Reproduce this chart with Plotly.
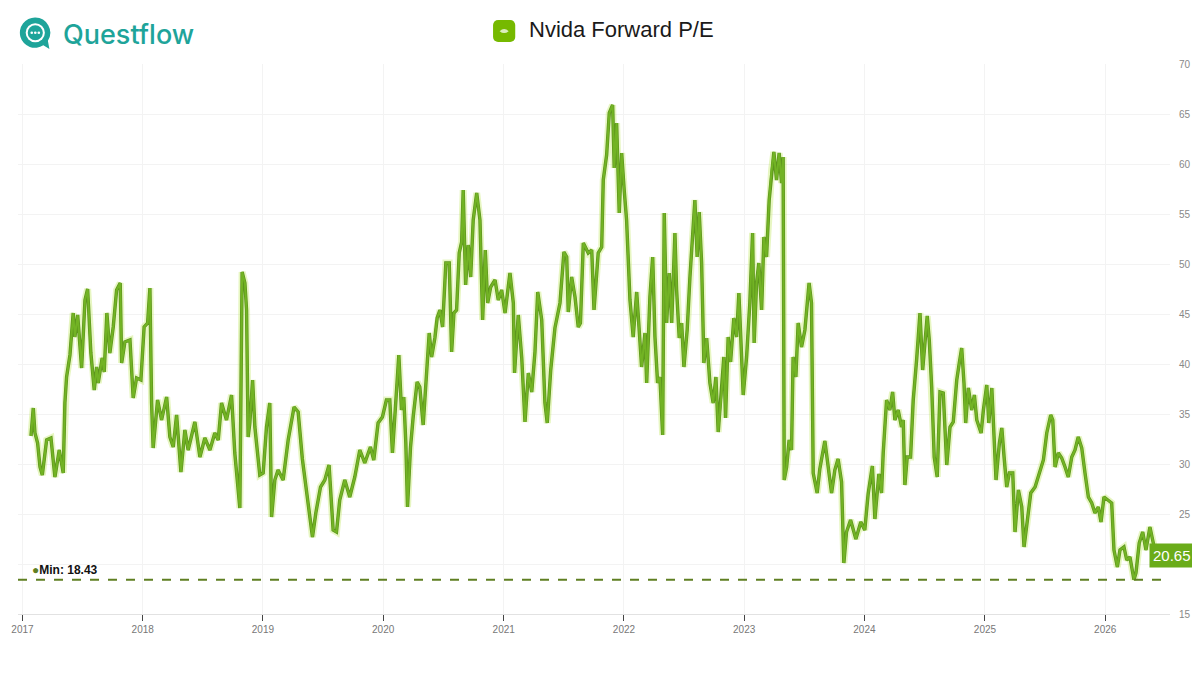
import base64
import pandas as pd
import plotly.graph_objects as go

# weekly-ish forward P/E, x given as decimal years
years = [
    2017.071, 2017.090, 2017.104, 2017.126, 2017.146, 2017.165, 2017.201, 2017.237, 2017.270, 2017.306,
    2017.339, 2017.353, 2017.367, 2017.395, 2017.422, 2017.436, 2017.459, 2017.492, 2017.520, 2017.542,
    2017.569, 2017.597, 2017.617, 2017.630, 2017.663, 2017.680, 2017.702, 2017.727, 2017.755, 2017.783,
    2017.813, 2017.825, 2017.852, 2017.894, 2017.921, 2017.949, 2017.985, 2018.012, 2018.041, 2018.060,
    2018.074, 2018.087, 2018.124, 2018.157, 2018.199, 2018.226, 2018.254, 2018.282, 2018.318, 2018.351,
    2018.378, 2018.434, 2018.476, 2018.517, 2018.559, 2018.600, 2018.628, 2018.656, 2018.697, 2018.739,
    2018.766, 2018.808, 2018.827, 2018.850, 2018.864, 2018.877, 2018.891, 2018.914, 2018.933, 2018.974,
    2019.002, 2019.030, 2019.057, 2019.072, 2019.099, 2019.126, 2019.168, 2019.210, 2019.259, 2019.293,
    2019.328, 2019.376, 2019.412, 2019.440, 2019.479, 2019.515, 2019.550, 2019.584, 2019.612, 2019.639,
    2019.681, 2019.722, 2019.764, 2019.806, 2019.847, 2019.894, 2019.922, 2019.958, 2019.994, 2020.027,
    2020.055, 2020.077, 2020.111, 2020.130, 2020.152, 2020.171, 2020.188, 2020.202, 2020.227, 2020.249,
    2020.282, 2020.304, 2020.332, 2020.354, 2020.382, 2020.402, 2020.429, 2020.448, 2020.471, 2020.493,
    2020.520, 2020.548, 2020.568, 2020.587, 2020.609, 2020.631, 2020.651, 2020.664, 2020.684, 2020.706,
    2020.726, 2020.747, 2020.776, 2020.803, 2020.825, 2020.847, 2020.867, 2020.892, 2020.928, 2020.955,
    2020.983, 2021.011, 2021.052, 2021.080, 2021.090, 2021.121, 2021.150, 2021.177, 2021.205, 2021.233,
    2021.260, 2021.283, 2021.316, 2021.343, 2021.362, 2021.391, 2021.426, 2021.468, 2021.501, 2021.524,
    2021.537, 2021.565, 2021.593, 2021.620, 2021.638, 2021.662, 2021.703, 2021.732, 2021.751, 2021.786,
    2021.815, 2021.828, 2021.856, 2021.878, 2021.906, 2021.919, 2021.939, 2021.961, 2021.981, 2022.002,
    2022.022, 2022.050, 2022.077, 2022.106, 2022.127, 2022.147, 2022.175, 2022.189, 2022.216, 2022.239,
    2022.258, 2022.280, 2022.299, 2022.322, 2022.335, 2022.355, 2022.377, 2022.397, 2022.424, 2022.438,
    2022.460, 2022.480, 2022.499, 2022.526, 2022.549, 2022.571, 2022.590, 2022.609, 2022.626, 2022.646,
    2022.665, 2022.688, 2022.715, 2022.742, 2022.765, 2022.784, 2022.812, 2022.831, 2022.845, 2022.867,
    2022.887, 2022.914, 2022.937, 2022.956, 2022.992, 2023.020, 2023.047, 2023.070, 2023.083, 2023.103,
    2023.122, 2023.145, 2023.164, 2023.186, 2023.208, 2023.228, 2023.247, 2023.269, 2023.291, 2023.311,
    2023.324, 2023.333, 2023.353, 2023.374, 2023.394, 2023.407, 2023.430, 2023.449, 2023.477, 2023.505,
    2023.540, 2023.560, 2023.574, 2023.607, 2023.629, 2023.671, 2023.698, 2023.727, 2023.754, 2023.781,
    2023.810, 2023.829, 2023.851, 2023.885, 2023.929, 2023.970, 2024.003, 2024.031, 2024.066, 2024.087,
    2024.120, 2024.142, 2024.156, 2024.184, 2024.211, 2024.234, 2024.253, 2024.280, 2024.308, 2024.322,
    2024.336, 2024.355, 2024.383, 2024.405, 2024.433, 2024.461, 2024.483, 2024.502, 2024.521, 2024.538,
    2024.558, 2024.579, 2024.604, 2024.627, 2024.654, 2024.683, 2024.710, 2024.737, 2024.766, 2024.787,
    2024.807, 2024.826, 2024.840, 2024.862, 2024.890, 2024.912, 2024.932, 2024.968, 2024.987, 2025.015,
    2025.032, 2025.057, 2025.070, 2025.092, 2025.120, 2025.140, 2025.159, 2025.181, 2025.203, 2025.231,
    2025.250, 2025.278, 2025.306, 2025.325, 2025.353, 2025.381, 2025.417, 2025.452, 2025.486, 2025.514,
    2025.547, 2025.564, 2025.583, 2025.610, 2025.638, 2025.666, 2025.693, 2025.722, 2025.749, 2025.776,
    2025.805, 2025.832, 2025.860, 2025.888, 2025.915, 2025.943, 2025.965, 2025.990, 2026.018, 2026.054,
    2026.073, 2026.101, 2026.123, 2026.156, 2026.179, 2026.206, 2026.239, 2026.256, 2026.283, 2026.312,
    2026.339, 2026.372, 2026.400, 2026.422,
]
pe = [
    32.8, 35.6, 33.1, 32.1, 29.7, 28.9, 32.4, 32.6, 28.7, 31.4,
    29.1, 36.1, 38.7, 40.9, 45.1, 42.7, 44.9, 39.6, 46.4, 47.5,
    41.1, 37.4, 39.7, 38.1, 40.6, 39.2, 45.1, 41.1, 43.7, 47.4,
    48.1, 40.1, 42.2, 42.4, 36.6, 38.6, 38.4, 43.7, 44.1, 47.6,
    36.1, 31.6, 36.4, 34.4, 36.7, 32.7, 31.7, 34.9, 29.2, 33.4,
    31.4, 34.2, 30.7, 32.6, 31.4, 33.1, 32.4, 36.1, 34.4, 36.9,
    31.1, 25.6, 49.2, 48.1, 45.4, 32.7, 34.1, 38.4, 33.7, 28.9,
    29.1, 33.7, 36.1, 24.7, 28.4, 29.4, 28.4, 32.4, 35.7, 35.2,
    30.5, 26.1, 22.7, 25.1, 27.7, 28.4, 29.9, 23.4, 23.2, 26.4,
    28.4, 26.7, 28.7, 31.4, 30.1, 31.7, 30.4, 34.1, 34.7, 36.4,
    36.4, 31.1, 37.4, 40.9, 35.4, 36.7, 32.1, 25.7, 31.7, 34.7,
    38.2, 37.7, 33.9, 38.1, 43.1, 40.7, 42.6, 44.6, 45.4, 43.7,
    50.1, 50.1, 41.2, 45.1, 45.4, 51.1, 52.2, 57.4, 47.9, 51.9,
    48.7, 54.4, 57.1, 54.4, 44.4, 51.4, 46.1, 47.7, 48.4, 46.4,
    47.4, 45.1, 49.1, 46.1, 39.1, 44.9, 40.6, 34.2, 39.1, 37.2,
    41.2, 47.2, 44.4, 36.1, 34.1, 39.4, 43.6, 46.1, 51.2, 50.7,
    45.2, 48.7, 46.7, 43.7, 44.1, 52.1, 51.1, 51.4, 45.4, 51.1,
    51.7, 58.4, 60.9, 65.1, 65.9, 59.6, 64.1, 55.1, 61.1, 57.4,
    54.4, 46.4, 42.7, 47.2, 42.7, 39.7, 43.1, 38.1, 46.7, 50.7,
    42.7, 38.1, 38.7, 32.9, 55.1, 44.1, 49.1, 44.1, 53.1, 47.4,
    42.6, 44.1, 39.7, 43.4, 48.7, 53.1, 56.4, 50.7, 55.2, 50.1,
    40.1, 42.6, 38.1, 36.1, 38.7, 33.2, 37.1, 40.7, 34.6, 42.7,
    40.2, 44.6, 42.7, 47.1, 36.9, 40.7, 46.1, 53.1, 42.1, 48.1,
    50.1, 45.4, 52.7, 50.7, 56.4, 59.4, 61.2, 58.4, 61.1, 58.1,
    60.7, 28.4, 29.7, 32.4, 31.4, 40.7, 38.7, 44.1, 41.7, 43.4,
    48.1, 46.1, 29.1, 27.1, 29.5, 32.3, 29.6, 27.1, 29.4, 30.5,
    28.2, 20.1, 23.2, 24.4, 22.5, 24.2, 23.4, 27.0, 29.8, 24.5,
    29.0, 27.1, 31.1, 36.4, 35.4, 37.2, 34.4, 35.4, 33.7, 34.4,
    27.9, 30.7, 30.7, 36.4, 40.4, 45.1, 39.4, 42.1, 44.8, 42.4,
    37.7, 30.7, 28.7, 37.2, 37.1, 29.9, 33.7, 34.2, 38.4, 40.1,
    41.6, 38.1, 34.1, 37.6, 35.4, 36.9, 34.4, 33.1, 35.4, 37.9,
    34.1, 37.6, 33.7, 28.4, 32.1, 33.6, 30.7, 27.7, 29.1, 29.1,
    23.2, 27.4, 25.7, 21.7, 24.4, 27.1, 27.7, 29.1, 30.4, 33.1,
    34.9, 34.4, 29.7, 31.1, 30.6, 29.7, 28.7, 30.7, 31.4, 32.7,
    31.6, 29.1, 26.7, 26.1, 25.1, 25.7, 24.2, 26.7, 26.4, 26.1,
    21.4, 19.7, 21.4, 21.7, 20.4, 20.7, 18.43, 19.1, 22.1, 23.2,
    21.4, 23.7, 22.1, 20.65,
]
x_range_years = [2016.963, 2026.539]
y_ticks = [15, 20, 25, 30, 35, 40, 45, 50, 55, 60, 65, 70]
# the 20 label sits under the last-value badge in the original
y_ticktext = ["15", "", "25", "30", "35", "40", "45", "50", "55", "60", "65", "70"]

title_text = "Nvida Forward P/E"
brand_text = "Questflow"

NV_GREEN = "#72b324"
TEAL = "#1ea49a"


def to_date(y):
    yr = int(y)
    start = pd.Timestamp(year=yr, month=1, day=1)
    end = pd.Timestamp(year=yr + 1, month=1, day=1)
    return start + (end - start) * (y - yr)


def svg_uri(svg):
    return "data:image/svg+xml;base64," + base64.b64encode(svg.encode()).decode()


dates = [to_date(y) for y in years]
min_pe = min(pe)
last_pe = pe[-1]

nv_icon = svg_uri(
    "<svg xmlns='http://www.w3.org/2000/svg' viewBox='0 0 24 24'>"
    "<rect x='1' y='1' width='22' height='22' rx='5' fill='#76b900'/>"
    "<path d='M7.5 12.2 Q12 8 16.5 12.2 Q12 16 7.5 12.2 Z' fill='#ffffff' opacity='0.75'/>"
    "</svg>"
)
qf_icon = svg_uri(
    "<svg xmlns='http://www.w3.org/2000/svg' viewBox='0 0 34 36'>"
    "<path d='M17 2 A15 15 0 1 0 25 29.5 L31 33 L29.5 25 A15 15 0 0 0 17 2 Z' fill='#1ea49a'/>"
    "<circle cx='17' cy='17' r='9.5' fill='#ffffff'/>"
    "<circle cx='17' cy='17' r='7.5' fill='#1ea49a'/>"
    "<circle cx='13.5' cy='17' r='1.3' fill='#ffffff'/>"
    "<circle cx='17' cy='17' r='1.3' fill='#ffffff'/>"
    "<circle cx='20.5' cy='17' r='1.3' fill='#ffffff'/>"
    "</svg>"
)

fig = go.Figure()

# soft glow + darker edge under the main line
fig.add_trace(go.Scatter(
    x=dates, y=pe, mode="lines",
    line=dict(color="rgba(185,230,80,0.35)", width=7),
    hoverinfo="skip", showlegend=False,
))
fig.add_trace(go.Scatter(
    x=dates, y=pe, mode="lines",
    line=dict(color="#5c951c", width=3.4),
    hoverinfo="skip", showlegend=False,
))
fig.add_trace(go.Scatter(
    x=dates, y=pe, mode="lines",
    line=dict(color=NV_GREEN, width=2),
    name="Forward P/E", showlegend=False,
))

fig.add_hline(y=min_pe, line=dict(color="#5f7f22", width=2, dash="dash"))

fig.add_annotation(
    x=dates[0], y=min_pe, xanchor="left", yanchor="bottom",
    xshift=-1, yshift=1, showarrow=False,
    text="<span style='color:#5f7f22'>●</span><b>Min: %.2f</b>" % min_pe,
    font=dict(family="Liberation Sans, Arial", size=12, color="#111111"),
)
fig.add_annotation(
    x=dates[-1], y=last_pe, xanchor="left", yanchor="middle",
    xshift=-7, yshift=2, showarrow=False,
    text="%.2f" % last_pe, bgcolor="#6aac1a", borderpad=3,
    font=dict(family="Liberation Sans, Arial", size=15, color="#ffffff"),
)

# header: brand on the left, title in the middle
fig.add_annotation(
    xref="paper", yref="paper", x=0.0375, y=1.053, xanchor="left", yanchor="middle",
    showarrow=False, text=brand_text,
    font=dict(family="Inter, Lato, sans-serif", size=27, color=TEAL, weight=500),
)
fig.add_annotation(
    xref="paper", yref="paper", x=0.4415, y=1.062, xanchor="left", yanchor="middle",
    showarrow=False, text=title_text,
    font=dict(family="Liberation Sans, Arial", size=22, color="#1a1a1a"),
)

# page body adds an 8px offset, so the figure is 8px smaller to fit the window
fig.update_layout(
    width=1192, height=667, autosize=False,
    margin=dict(l=10, r=30, t=56, b=61),
    paper_bgcolor="white", plot_bgcolor="white",
    images=[
        dict(source=nv_icon, xref="paper", yref="paper", x=0.4115, y=1.082,
             sizex=0.021, sizey=0.044, xanchor="left", yanchor="top", sizing="contain"),
        dict(source=qf_icon, xref="paper", yref="paper", x=0.0, y=1.088,
             sizex=0.03, sizey=0.066, xanchor="left", yanchor="top", sizing="contain"),
    ],
    xaxis=dict(
        range=[to_date(x_range_years[0]), to_date(x_range_years[1])],
        tick0="2017-01-01", dtick="M12", tickformat="%Y",
        ticks="outside", ticklen=6, tickcolor="#444444", tickwidth=1,
        showgrid=True, gridcolor="#f3f3f3",
        showline=True, linecolor="#e2e2e2", linewidth=1,
        tickfont=dict(family="Liberation Sans, Arial", size=10, color="#777777"),
        zeroline=False, automargin=False,
    ),
    yaxis=dict(
        side="right", range=[15, 70], tickvals=y_ticks, ticktext=y_ticktext,
        showgrid=True, gridcolor="#f3f3f3", zeroline=False,
        tickfont=dict(family="Liberation Sans, Arial", size=10, color="#888888"),
        ticklabelstandoff=8, automargin=False,
    ),
)

fig.write_html("out.html")
